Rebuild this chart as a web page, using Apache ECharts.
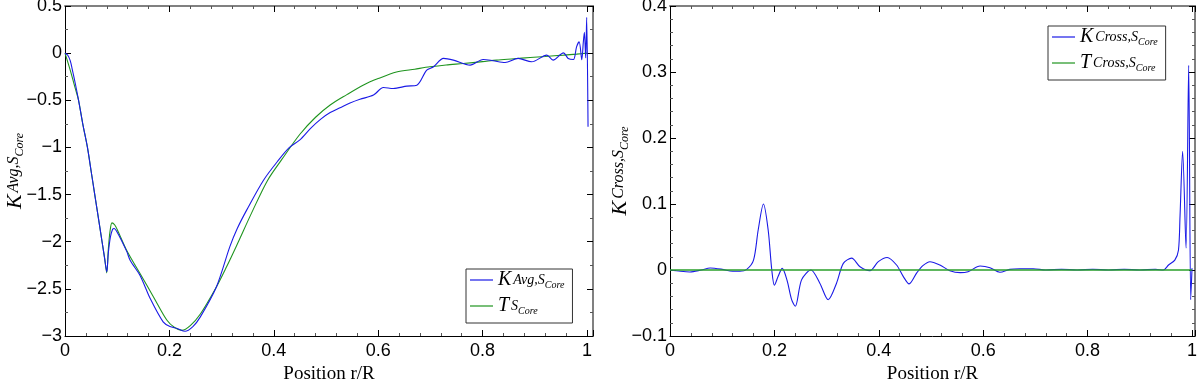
<!DOCTYPE html>
<html>
<head>
<meta charset="utf-8">
<script src="https://cdn.jsdelivr.net/npm/echarts@6/dist/echarts.min.js"></script>
<style>
  html, body { margin: 0; padding: 0; background: #fff; }
  #chart { width: 1200px; height: 380px; }
</style>
</head>
<body>
<div id="chart"></div>
<script>
// left panel: K_Avg (blue) and T (green), [r/R, value]
const kAvg = [
  [0, 0], [0.005, -0.02], [0.01, -0.08], [0.015, -0.2], [0.02, -0.33], [0.026, -0.5],
  [0.034, -0.75], [0.043, -1.0], [0.05, -1.25], [0.057, -1.5], [0.064, -1.75], [0.071, -2.0],
  [0.076, -2.18], [0.08, -2.32], [0.083, -2.12], [0.087, -1.95], [0.091, -1.87], [0.094, -1.86],
  [0.1, -1.9], [0.118, -2.1], [0.125, -2.2], [0.144, -2.36], [0.163, -2.6], [0.188, -2.85],
  [0.201, -2.9], [0.215, -2.92], [0.23, -2.95], [0.245, -2.9], [0.259, -2.8], [0.29, -2.48],
  [0.316, -2.05], [0.33, -1.86], [0.348, -1.665], [0.38, -1.35], [0.409, -1.135], [0.43, -1.0],
  [0.45, -0.92], [0.47, -0.8], [0.49, -0.7], [0.508, -0.63], [0.527, -0.58], [0.546, -0.53],
  [0.565, -0.49], [0.591, -0.445], [0.61, -0.364], [0.629, -0.375], [0.655, -0.35], [0.674, -0.34],
  [0.693, -0.18], [0.706, -0.145], [0.725, -0.056], [0.744, -0.074], [0.776, -0.127], [0.801, -0.067],
  [0.82, -0.08], [0.843, -0.1], [0.868, -0.056], [0.894, -0.092], [0.923, -0.021], [0.935, -0.074],
  [0.955, 0.003], [0.964, -0.056], [0.974, -0.067], [0.98, 0.067], [0.985, 0.12], [0.99, -0.07],
  [0.993, 0.12], [0.995, 0.22], [0.9975, -0.05], [0.9994, 0.38], [1.002, -0.78]
];
const tAvg = [
  [0, 0], [0.01, -0.18], [0.02, -0.38], [0.026, -0.5], [0.034, -0.75], [0.043, -1.0],
  [0.05, -1.25], [0.057, -1.5], [0.064, -1.75], [0.071, -2.0], [0.076, -2.18], [0.08, -2.33],
  [0.083, -2.08], [0.086, -1.9], [0.09, -1.8], [0.095, -1.82], [0.1, -1.87], [0.118, -2.09],
  [0.144, -2.34], [0.169, -2.58], [0.195, -2.83], [0.21, -2.91], [0.224, -2.94], [0.24, -2.89],
  [0.259, -2.77], [0.29, -2.48], [0.31, -2.26], [0.328, -2.05], [0.36, -1.665], [0.388, -1.35],
  [0.415, -1.13], [0.45, -0.86], [0.48, -0.68], [0.508, -0.55], [0.54, -0.44], [0.571, -0.34],
  [0.6, -0.27], [0.635, -0.2], [0.67, -0.17], [0.699, -0.145], [0.73, -0.125], [0.763, -0.11],
  [0.8, -0.09], [0.827, -0.074], [0.86, -0.06], [0.891, -0.046], [0.92, -0.035], [0.955, -0.021],
  [0.98, -0.01], [1.0, 0]
];
// right panel: K_Cross (blue) and T_Cross (green)
const kCross = [
  [0, 0], [0.02, -0.002], [0.038, -0.003], [0.06, 0], [0.077, 0.003], [0.1, 0.001],
  [0.12, -0.002], [0.134, -0.002], [0.147, 0.001], [0.16, 0.015], [0.169, 0.061], [0.179, 0.1],
  [0.188, 0.061], [0.195, 0], [0.2, -0.023], [0.207, -0.01], [0.215, 0.0025], [0.224, -0.015],
  [0.233, -0.045], [0.24, -0.055], [0.252, -0.015], [0.27, 0], [0.287, -0.02], [0.303, -0.045],
  [0.319, -0.02], [0.332, 0.01], [0.348, 0.018], [0.364, 0.005], [0.383, -0.001], [0.399, 0.0126],
  [0.416, 0.019], [0.434, 0.0076], [0.447, -0.01], [0.458, -0.021], [0.473, -0.004], [0.485, 0.007],
  [0.498, 0.0126], [0.517, 0.0076], [0.536, -0.001], [0.556, -0.004], [0.571, -0.0025], [0.594, 0.006],
  [0.613, 0.0035], [0.632, -0.0035], [0.651, 0.001], [0.67, 0.002], [0.696, 0.002], [0.72, 0],
  [0.75, 0.001], [0.78, 0], [0.81, 0.001], [0.84, 0], [0.87, 0.001], [0.9, 0], [0.93, 0.001],
  [0.945, 0], [0.955, 0.0076], [0.967, 0.015], [0.974, 0.03], [0.977, 0.081], [0.982, 0.18],
  [0.9885, 0.033], [0.9936, 0.31], [0.9975, -0.045], [1.0, 0.0025]
];
const tCross = [[0, 0], [0.25, 0], [0.5, 0], [0.75, 0], [1.0, 0]];

const xTicks = [0, 0.2, 0.4, 0.6, 0.8, 1];

const BLUE = '#1a1ae6';
const GREEN = '#1f941f';
const sansFont = '"Liberation Sans", Arial, sans-serif';
const serifFont = '"Liberation Serif", "DejaVu Serif", serif';

// rich styles for the math labels (K, subscript, sub-subscript)
const mathRich = function (big, sub, subsub) {
  return {
    k: { fontFamily: serifFont, fontStyle: 'italic', fontSize: big, lineHeight: big, verticalAlign: 'top', padding: [0, 2, Math.round(sub * 0.45), 0], color: '#000' },
    s: { fontFamily: serifFont, fontStyle: 'italic', fontSize: sub, lineHeight: sub, verticalAlign: 'bottom', padding: [0, 0, Math.round(subsub * 0.3), 0], color: '#000' },
    ss: { fontFamily: serifFont, fontStyle: 'italic', fontSize: subsub, lineHeight: subsub, verticalAlign: 'bottom', color: '#000' }
  };
};

const minusFmt = v => String(v).replace('-', '\u2212');
const xFmt = v => (xTicks.some(t => Math.abs(t - v) < 1e-6) ? String(v) : '');

function bottomX(grid, max) {
  return {
    type: 'value', gridIndex: grid, position: 'bottom', min: 0, max: max, interval: 0.2,
    name: 'Position r/R', nameLocation: 'middle', nameGap: 27,
    nameTextStyle: { fontFamily: serifFont, fontSize: 19, color: '#000' },
    axisLine: { onZero: false, lineStyle: { color: '#000', width: 1 } },
    axisTick: { inside: true, length: 6, lineStyle: { color: '#000' } },
    minorTick: { show: true, splitNumber: 5, length: 3, lineStyle: { color: '#555' } },
    axisLabel: { formatter: xFmt, fontFamily: sansFont, fontSize: 18, color: '#000', margin: 6 },
    splitLine: { show: false }
  };
}
function topX(grid, max) {
  return {
    type: 'value', gridIndex: grid, position: 'top', min: 0, max: max, interval: 0.2,
    axisLine: { onZero: false, lineStyle: { color: '#808080', width: 2 } },
    axisTick: { inside: true, length: 6, lineStyle: { color: '#000' } },
    minorTick: { show: true, splitNumber: 5, length: 3, lineStyle: { color: '#555' } },
    axisLabel: { show: false }, splitLine: { show: false }
  };
}
function leftY(grid, min, max, interval, minorSplit, nameText) {
  return {
    type: 'value', gridIndex: grid, position: 'left', min: min, max: max, interval: interval,
    name: nameText, nameLocation: 'middle', nameGap: 39, nameRotate: 90, nameMoveOverlap: false,
    nameTextStyle: { rich: mathRich(22, 16, 12) },
    axisLine: { onZero: false, lineStyle: { color: '#000', width: 1 } },
    axisTick: { inside: true, length: 6, lineStyle: { color: '#000' } },
    minorTick: { show: true, splitNumber: minorSplit, length: 3, lineStyle: { color: '#555' } },
    axisLabel: { formatter: minusFmt, fontFamily: sansFont, fontSize: 18, color: '#000', margin: 3 },
    splitLine: { show: false }
  };
}
function rightY(grid, min, max, interval, minorSplit) {
  return {
    type: 'value', gridIndex: grid, position: 'right', min: min, max: max, interval: interval,
    axisLine: { onZero: false, lineStyle: { color: '#808080', width: 2 } },
    axisTick: { inside: true, length: 6, lineStyle: { color: '#000' } },
    minorTick: { show: true, splitNumber: minorSplit, length: 3, lineStyle: { color: '#555' } },
    axisLabel: { show: false }, splitLine: { show: false }
  };
}

const legendLabels = {
  'K avg': '{k|K}{s|Avg,S}{ss|Core}',
  'T avg': '{k|T}{s|S}{ss|Core}',
  'K cross': '{k|K}{s|Cross,S}{ss|Core}',
  'T cross': '{k|T}{s|Cross,S}{ss|Core}'
};

function legendBox(names, left, top) {
  return {
    data: names, orient: 'vertical', left: left, top: top,
    icon: 'rect', itemWidth: 23, itemHeight: 1.2, itemGap: 0, padding: [1, 8, 1, 4],
    borderColor: '#333', borderWidth: 1, backgroundColor: '#fff',
    formatter: n => legendLabels[n],
    textStyle: { rich: mathRich(20, 14, 10) }
  };
}

let chart = echarts.init(document.getElementById('chart'), null, { renderer: 'canvas' });
let option = {
  animation: false,
  backgroundColor: '#fff',
  grid: [
    { left: 65, top: 6, width: 528, height: 330, outerBoundsMode: 'none', containLabel: false },
    { left: 670, top: 6, width: 525, height: 330, outerBoundsMode: 'none', containLabel: false }
  ],
  xAxis: [bottomX(0, 1.0115), topX(0, 1.0115), bottomX(1, 1.0057), topX(1, 1.0057)],
  yAxis: [
    leftY(0, -3, 0.5, 0.5, 2, '{k|K}{s|Avg,S}{ss|Core}'),
    rightY(0, -3, 0.5, 0.5, 2),
    leftY(1, -0.1, 0.4, 0.1, 5, '{k|K}{s|Cross,S}{ss|Core}'),
    rightY(1, -0.1, 0.4, 0.1, 5)
  ],
  legend: [legendBox(['K avg', 'T avg'], 466, 269), legendBox(['K cross', 'T cross'], 1048, 26)],
  series: [
    { name: 'K avg', type: 'line', xAxisIndex: 0, yAxisIndex: 0, data: kAvg, symbol: 'none', smooth: 0.3, lineStyle: { color: BLUE, width: 1.1 }, itemStyle: { color: BLUE }, z: 3 },
    { name: 'T avg', type: 'line', xAxisIndex: 0, yAxisIndex: 0, data: tAvg, symbol: 'none', smooth: 0.3, lineStyle: { color: GREEN, width: 1.1 }, itemStyle: { color: GREEN }, z: 2 },
    { name: 'K cross', type: 'line', xAxisIndex: 2, yAxisIndex: 2, data: kCross, symbol: 'none', smooth: 0.3, lineStyle: { color: BLUE, width: 1.1 }, itemStyle: { color: BLUE }, z: 2 },
    { name: 'T cross', type: 'line', xAxisIndex: 2, yAxisIndex: 2, data: tCross, symbol: 'none', lineStyle: { color: '#2aa02a', width: 1.5 }, itemStyle: { color: GREEN }, z: 3 }
  ]
};
chart.setOption(option);
</script>
</body>
</html>
